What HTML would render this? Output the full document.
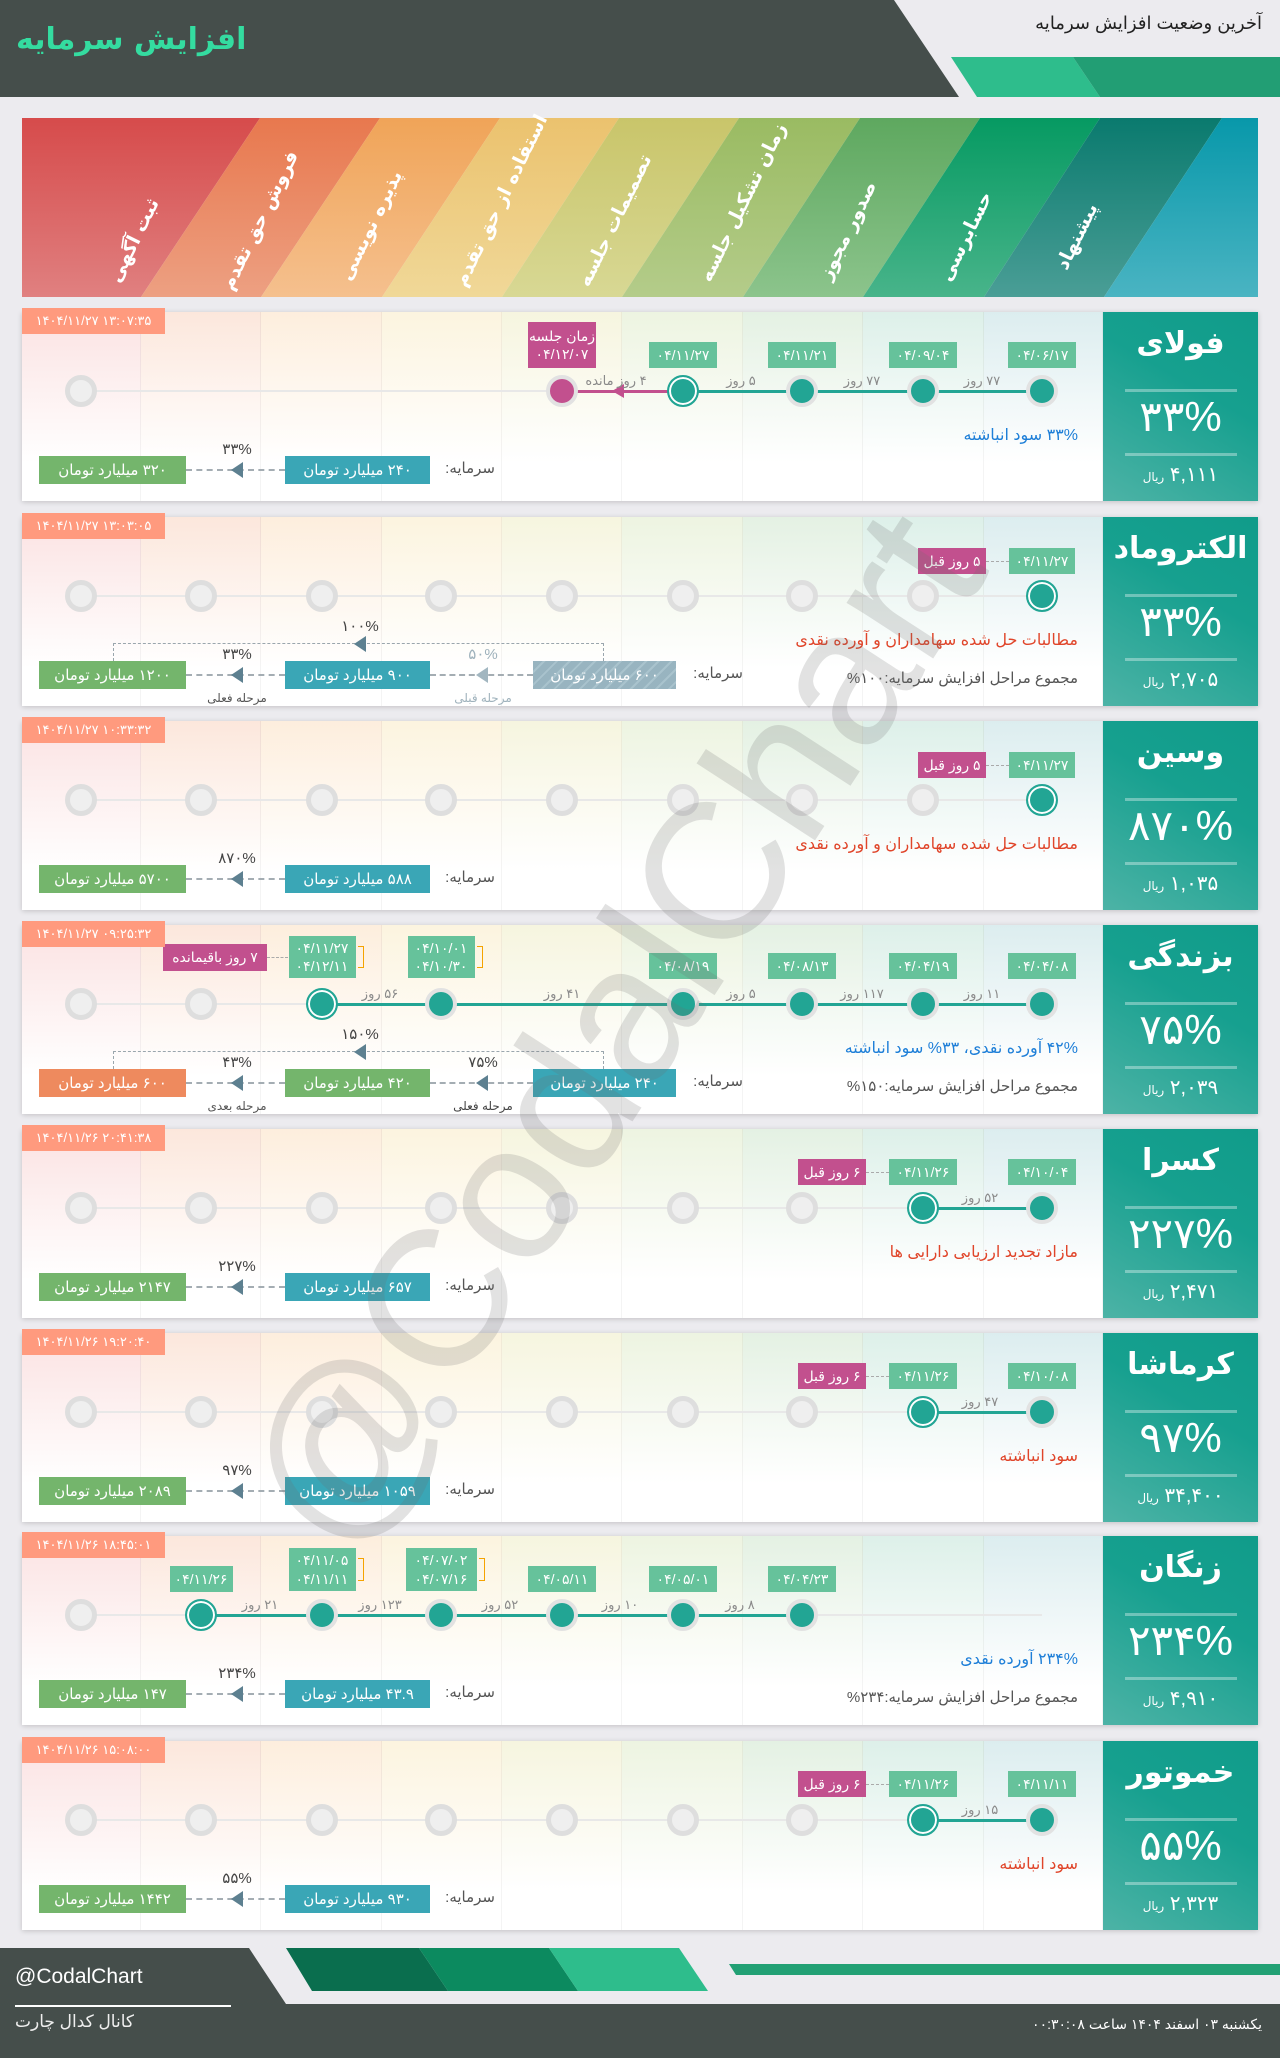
<!DOCTYPE html>
<html lang="fa"><head><meta charset="utf-8">
<style>
*{margin:0;padding:0;box-sizing:border-box}
body{width:1280px;height:2058px;background:#ecebef;position:relative;overflow:hidden;font-family:"Liberation Sans","DejaVu Sans",sans-serif}
.a{position:absolute}
.row{position:absolute;left:0;width:1280px;height:189px}
.bg{position:absolute;left:22px;width:1236px;top:0;height:189px;background:#fff;box-shadow:0 1px 5px rgba(0,0,0,.18);overflow:hidden}
.col{position:absolute;top:0;height:189px;border-right:1px solid rgba(0,0,0,.045)}
.c{position:absolute;top:63px;width:32px;height:32px;border-radius:50%}
.g{background:#efefef;border:5px solid #dedede}
.t{background:#22a594;border:4px solid #e2e2e2}
.m{background:#c2508e;border:4px solid #e2e2e2}
.cur{background:#22a594;border:2px solid #22a594;box-shadow:inset 0 0 0 2px #fff}
.tag{position:absolute;background:#66c29b;color:#fff;font-size:14px;display:flex;align-items:center;justify-content:center;text-align:center;line-height:1.3;white-space:nowrap;direction:ltr}
.mg{background:#c2508e;direction:rtl}
.d{position:absolute;top:61px;font-size:13px;color:#8a8a8a;transform:translateX(-50%);white-space:nowrap;direction:rtl}
.desc{position:absolute;right:202px;top:113px;font-size:16px;white-space:nowrap;direction:rtl}
.sum{position:absolute;right:202px;top:152px;font-size:15px;color:#555;white-space:nowrap;direction:rtl}
.bx{position:absolute;top:144px;height:28px;color:#fff;font-size:15px;display:flex;align-items:center;justify-content:center;white-space:nowrap;direction:rtl}
.cp{position:absolute;top:147px;font-size:15px;color:#555;direction:rtl;white-space:nowrap}
.dl{position:absolute;top:157px;border-top:2px dashed #a4adb3;height:0}
.tri{position:absolute;width:0;height:0;border-top:8px solid transparent;border-bottom:8px solid transparent;border-right:12px solid #5d8090}
.pl{position:absolute;font-size:15px;color:#444;transform:translateX(-50%);white-space:nowrap;direction:ltr}
.sl{position:absolute;font-size:12px;color:#555;transform:translateX(-50%);white-space:nowrap;direction:rtl;top:174px}
.dt{position:absolute;left:22px;top:-4px;width:143px;height:26px;background:#ff9a7e;color:#fff;font-size:13px;display:flex;align-items:center;justify-content:center;direction:ltr;white-space:nowrap}
.rp{position:absolute;left:1103px;top:0;width:155px;height:189px;background:linear-gradient(30deg,#4db3a6,#16a08f 60%,#109c8a);color:#fff;text-align:center;direction:rtl}
.rp .nm{position:absolute;left:0;right:0;top:14px;font-size:30px;font-weight:bold}
.rp .sep{position:absolute;left:22px;width:112px;height:3px;background:rgba(255,255,255,.35)}
.rp .pc{position:absolute;left:0;right:0;top:80px;font-size:42px}
.rp .pr{position:absolute;left:0;right:0;top:150px;font-size:20px}
.rp .pr small{font-size:12px}
.ob{position:absolute;border:1.5px solid #f5a300;border-left:none;width:6px}
</style></head><body>

<svg class="a" style="left:0;top:0" width="1280" height="300">
<polygon points="0,0 894,0 959,97 0,97" fill="#454e4b"/>
<polygon points="951,57 1073,57 1100,97 977,97" fill="#2ebd8c"/>
<polygon points="1073,57 1280,57 1280,97 1100,97" fill="#229e74"/>
<defs>
<linearGradient id="g0" x1="0" y1="0" x2="0" y2="1"><stop offset="0" stop-color="#d64b4b"/><stop offset="1" stop-color="#e08080"/></linearGradient>
<linearGradient id="g1" x1="0" y1="0" x2="0" y2="1"><stop offset="0" stop-color="#e8784e"/><stop offset="1" stop-color="#eda082"/></linearGradient>
<linearGradient id="g2" x1="0" y1="0" x2="0" y2="1"><stop offset="0" stop-color="#f0a458"/><stop offset="1" stop-color="#f5c08e"/></linearGradient>
<linearGradient id="g3" x1="0" y1="0" x2="0" y2="1"><stop offset="0" stop-color="#ebc26e"/><stop offset="1" stop-color="#f0d898"/></linearGradient>
<linearGradient id="g4" x1="0" y1="0" x2="0" y2="1"><stop offset="0" stop-color="#c9c56a"/><stop offset="1" stop-color="#d8d894"/></linearGradient>
<linearGradient id="g5" x1="0" y1="0" x2="0" y2="1"><stop offset="0" stop-color="#9abb62"/><stop offset="1" stop-color="#b4cc8a"/></linearGradient>
<linearGradient id="g6" x1="0" y1="0" x2="0" y2="1"><stop offset="0" stop-color="#5ea85f"/><stop offset="1" stop-color="#8cc48c"/></linearGradient>
<linearGradient id="g7" x1="0" y1="0" x2="0" y2="1"><stop offset="0" stop-color="#069a62"/><stop offset="1" stop-color="#48b48a"/></linearGradient>
<linearGradient id="g8" x1="0" y1="0" x2="0" y2="1"><stop offset="0" stop-color="#0a7a6e"/><stop offset="1" stop-color="#4a9e96"/></linearGradient>
<linearGradient id="g9" x1="0" y1="0" x2="0" y2="1"><stop offset="0" stop-color="#0898aa"/><stop offset="1" stop-color="#4ab4c2"/></linearGradient>
</defs>
<g>
<polygon points="22,118 260,118 141,297 22,297" fill="url(#g0)"/>
<polygon points="260,118 380,118 261,297 141,297" fill="url(#g1)"/>
<polygon points="380,118 500,118 382,297 261,297" fill="url(#g2)"/>
<polygon points="500,118 619,118 502,297 382,297" fill="url(#g3)"/>
<polygon points="619,118 739,118 622,297 502,297" fill="url(#g4)"/>
<polygon points="739,118 860,118 743,297 622,297" fill="url(#g5)"/>
<polygon points="860,118 980,118 863,297 743,297" fill="url(#g6)"/>
<polygon points="980,118 1100,118 984,297 863,297" fill="url(#g7)"/>
<polygon points="1100,118 1222,118 1104,297 984,297" fill="url(#g8)"/>
<polygon points="1222,118 1258,118 1258,297 1104,297" fill="url(#g9)"/>
</g>
<g fill="#fff" font-family="DejaVu Sans, sans-serif" font-weight="bold" font-size="19" text-anchor="middle" direction="rtl">
<text transform="translate(133,240) rotate(-64)" dy="7">ثبت آگهی</text>
<text transform="translate(259,220) rotate(-64)" dy="7">فروش حق تقدم</text>
<text transform="translate(370,225) rotate(-64)" dy="7">پذیره نویسی</text>
<text transform="translate(500,200) rotate(-64)" dy="7">استفاده از حق تقدم</text>
<text transform="translate(614,220) rotate(-64)" dy="7">تصمیمات جلسه</text>
<text transform="translate(742,202) rotate(-64)" dy="7">زمان تشکیل جلسه</text>
<text transform="translate(847,230) rotate(-64)" dy="7">صدور مجوز</text>
<text transform="translate(965,236) rotate(-64)" dy="7">حسابرسی</text>
<text transform="translate(1076,236) rotate(-64)" dy="7">پیشنهاد</text>
</g>
</svg>
<div class="a" style="left:16px;top:22px;font-size:30px;font-weight:bold;color:#34dca0;direction:rtl;font-family:'DejaVu Sans',sans-serif">افزایش سرمایه</div>
<div class="a" style="right:18px;top:13px;font-size:18px;color:#222;direction:rtl">آخرین وضعیت افزایش سرمایه</div>

<div id="rows"></div>

<div class="a" style="left:612px;top:1030px;transform:translate(-50%,-50%) rotate(-57deg);font-size:195px;color:rgba(110,110,110,.2);white-space:nowrap;font-family:'Liberation Sans',sans-serif;pointer-events:none">@CodalChart</div>

<svg class="a" style="left:0;top:1940px" width="1280" height="118">
<polygon points="0,8 249,8 286,64 1280,64 1280,118 0,118" fill="#454e4b"/>
<polygon points="286,8 419,8 448,51 312,51" fill="#0a6e4e"/>
<polygon points="419,8 549,8 578,51 448,51" fill="#0c8a5f"/>
<polygon points="549,8 679,8 708,51 578,51" fill="#2ebd8c"/>
<polygon points="729,24 1280,24 1280,35 736,35" fill="#22a074"/>
<rect x="15" y="65" width="216" height="2" fill="#fff"/>
</svg>
<div class="a" style="left:15px;top:1965px;font-size:21px;color:#fff">@CodalChart</div>
<div class="a" style="left:15px;top:2012px;font-size:17px;color:#eee;direction:rtl">کانال کدال چارت</div>
<div class="a" style="right:18px;top:2016px;font-size:14px;color:#fff;direction:rtl">یکشنبه ۰۳ اسفند ۱۴۰۴ ساعت ۰۰:۳۰:۰۸</div>

<script>
var X=[81,201,322,441,562,683,802,923,1042];
var C=[22,141,261,382,502,622,743,863,984,1103];
var tints=['#fbe2e2','#fce7dc','#fdeedd','#fcf4df','#f6f5df','#edf4e1','#e4f1e3','#ddf0e9','#dcedef'];
function row(o){
 var h='<div class="row" style="top:'+o.top+'px"><div class="bg">';
 for(var i=0;i<9;i++){h+='<div class="col" style="left:'+(C[i]-22)+'px;width:'+(C[i+1]-C[i])+'px;background:linear-gradient(to bottom,'+tints[i]+',#fff 80%)"></div>';}
 h+='</div>';
 h+='<div class="a" style="left:81px;width:961px;top:78px;height:2px;background:#e8e8e8"></div>';
 if(o.line)h+='<div class="a" style="left:'+o.line[0]+'px;width:'+(o.line[1]-o.line[0])+'px;top:78px;height:3px;background:#22a594"></div>';
 if(o.mline){h+='<div class="a" style="left:'+o.mline[0]+'px;width:'+(o.mline[1]-o.mline[0])+'px;top:78px;height:3px;background:#c2508e"></div><div class="tri" style="left:612px;top:72px;border-top-width:7px;border-bottom-width:7px;border-right-color:#c2508e"></div>';}
 o.c.forEach(function(t,i){ if(t) h+='<div class="c '+t+'" style="left:'+(X[i]-16)+'px"></div>';});
 (o.tags||[]).forEach(function(t){
   var w=t.w||68, top=t.top||30, ht=t.h||26;
   h+='<div class="tag'+(t.m?' mg':'')+'" style="left:'+((t.x!=null?t.x:X[t.i])-w/2)+'px;top:'+top+'px;width:'+w+'px;height:'+ht+'px">'+t.t+'</div>';
   if(t.ob) h+='<div class="ob" style="left:'+((t.x!=null?t.x:X[t.i])+w/2+2)+'px;top:'+(top+10)+'px;height:'+(ht-20)+'px"></div>';
 });
 (o.conn||[]).forEach(function(c){h+='<div class="a" style="left:'+c[0]+'px;width:'+(c[1]-c[0])+'px;top:'+c[2]+'px;border-top:1.5px dashed #aaa"></div>';});
 (o.days||[]).forEach(function(d){h+='<div class="d" style="left:'+d[0]+'px">'+d[1]+'</div>';});
 h+='<div class="desc" style="color:'+o.dc+'">'+o.desc+'</div>';
 if(o.sum)h+='<div class="sum">مجموع مراحل افزایش سرمایه:'+o.sum+'</div>';
 h+=o.cap;
 h+='<div class="dt">'+o.date+'</div>';
 h+='<div class="rp"><div class="nm">'+o.name+'</div><div class="sep" style="top:77px"></div><div class="pc">'+o.pct+'</div><div class="sep" style="top:141px"></div><div class="pr">'+o.price+' <small>ریال</small></div></div>';
 h+='</div>';
 return h;
}
function capA(a,b,p){
 return '<div class="cp" style="right:785px">سرمایه:</div>'+
 '<div class="bx" style="left:285px;width:145px;background:#3aa6b6">'+a+' میلیارد تومان</div>'+
 '<div class="dl" style="left:186px;width:99px"></div><div class="tri" style="left:231px;top:150px"></div>'+
 '<div class="pl" style="left:237px;top:128px">'+p+'</div>'+
 '<div class="bx" style="left:39px;width:147px;background:#74b56c">'+b+' میلیارد تومان</div>';
}
function capB(o){
 return '<div class="cp" style="right:537px">سرمایه:</div>'+
 '<div class="bx" style="left:533px;width:143px;background:'+o.c1+'">'+o.a+' میلیارد تومان</div>'+
 '<div class="dl" style="left:430px;width:103px"></div><div class="tri" style="left:476px;top:150px;border-right-color:'+o.t1+'"></div>'+
 '<div class="pl" style="left:483px;top:128px;color:'+o.p1c+'">'+o.p1+'</div><div class="sl" style="left:483px;color:'+o.p1c+'">'+o.l1+'</div>'+
 '<div class="bx" style="left:285px;width:145px;background:'+o.c2+'">'+o.b+' میلیارد تومان</div>'+
 '<div class="dl" style="left:186px;width:99px"></div><div class="tri" style="left:231px;top:150px"></div>'+
 '<div class="pl" style="left:237px;top:128px">'+o.p2+'</div><div class="sl" style="left:237px">'+o.l2+'</div>'+
 '<div class="bx" style="left:39px;width:147px;background:'+o.c3+'">'+o.c+' میلیارد تومان</div>'+
 '<div class="a" style="left:113px;width:491px;top:126px;height:18px;border:1.5px dashed #9aa6ad;border-bottom:none"></div>'+
 '<div class="tri" style="left:354px;top:119px"></div><div class="pl" style="left:360px;top:100px">'+o.p3+'</div>';
}
var G='g',T='t',K='cur',M='m',N=null;
var rows=[
{top:312,date:'۱۴۰۴/۱۱/۲۷ ۱۳:۰۷:۳۵',name:'فولای',pct:'۳۳%',price:'۴,۱۱۱',
 c:[G,N,N,N,M,K,T,T,T],line:[683,1042],mline:[562,683],
 tags:[{i:8,t:'۰۴/۰۶/۱۷'},{i:7,t:'۰۴/۰۹/۰۴'},{i:6,t:'۰۴/۱۱/۲۱'},{i:5,t:'۰۴/۱۱/۲۷'},{i:4,t:'زمان جلسه<br>۰۴/۱۲/۰۷',m:1,top:10,h:46,w:68}],
 days:[[982,'۷۷ روز'],[862,'۷۷ روز'],[741,'۵ روز'],[616,'۴ روز مانده']],
 desc:'۳۳% سود انباشته',dc:'#1e7fd8',cap:capA('۲۴۰','۳۲۰','۳۳%')},
{top:517,date:'۱۴۰۴/۱۱/۲۷ ۱۳:۰۳:۰۵',name:'الکتروماد',pct:'۳۳%',price:'۲,۷۰۵',
 c:[G,G,G,G,G,G,G,G,K],
 tags:[{i:8,t:'۰۴/۱۱/۲۷',w:66,top:31},{x:952,t:'۵ روز قبل',m:1,w:68,top:31}],conn:[[986,1009,44]],
 desc:'مطالبات حل شده سهامداران و آورده نقدی',dc:'#e0452a',sum:'۱۰۰%',
 cap:capB({a:'۶۰۰',b:'۹۰۰',c:'۱۲۰۰',c1:'repeating-linear-gradient(135deg,#98b4c0 0 7px,#a9c3cd 7px 9px)',t1:'#a2b6c0',p1:'۵۰%',p1c:'#9fb2bc',l1:'مرحله قبلی',c2:'#3aa6b6',p2:'۳۳%',l2:'مرحله فعلی',c3:'#74b56c',p3:'۱۰۰%'})},
{top:721,date:'۱۴۰۴/۱۱/۲۷ ۱۰:۳۳:۳۲',name:'وسین',pct:'۸۷۰%',price:'۱,۰۳۵',
 c:[G,G,G,G,G,G,G,G,K],
 tags:[{i:8,t:'۰۴/۱۱/۲۷',w:66,top:31},{x:952,t:'۵ روز قبل',m:1,w:68,top:31}],conn:[[986,1009,44]],
 desc:'مطالبات حل شده سهامداران و آورده نقدی',dc:'#e0452a',cap:capA('۵۸۸','۵۷۰۰','۸۷۰%')},
{top:925,date:'۱۴۰۴/۱۱/۲۷ ۰۹:۲۵:۳۲',name:'بزندگی',pct:'۷۵%',price:'۲,۰۳۹',
 c:[G,G,K,T,N,T,T,T,T],line:[322,1042],
 tags:[{i:8,t:'۰۴/۰۴/۰۸',top:28},{i:7,t:'۰۴/۰۴/۱۹',top:28},{i:6,t:'۰۴/۰۸/۱۳',top:28},{i:5,t:'۰۴/۰۸/۱۹',top:28},
  {i:3,t:'۰۴/۱۰/۰۱<br>۰۴/۱۰/۳۰',top:11,h:42,w:67,ob:1},{i:2,t:'۰۴/۱۱/۲۷<br>۰۴/۱۲/۱۱',top:11,h:42,w:67,ob:1},
  {x:215,t:'۷ روز باقیمانده',m:1,w:104,top:19,h:27}],conn:[[267,288,32]],
 days:[[982,'۱۱ روز'],[862,'۱۱۷ روز'],[741,'۵ روز'],[562,'۴۱ روز'],[380,'۵۶ روز']],
 desc:'۴۲% آورده نقدی، ۳۳% سود انباشته',dc:'#1e7fd8',sum:'۱۵۰%',
 cap:capB({a:'۲۴۰',b:'۴۲۰',c:'۶۰۰',c1:'#3aa6b6',t1:'#5d8090',p1:'۷۵%',p1c:'#444',l1:'مرحله فعلی',c2:'#74b56c',p2:'۴۳%',l2:'مرحله بعدی',c3:'#ee8a5e',p3:'۱۵۰%'})},
{top:1129,date:'۱۴۰۴/۱۱/۲۶ ۲۰:۴۱:۳۸',name:'کسرا',pct:'۲۲۷%',price:'۲,۴۷۱',
 c:[G,G,G,G,G,G,G,K,T],line:[923,1042],
 tags:[{i:8,t:'۰۴/۱۰/۰۴',top:30},{i:7,t:'۰۴/۱۱/۲۶',top:30},{x:832,t:'۶ روز قبل',m:1,w:68,top:30}],conn:[[866,889,43]],
 days:[[980,'۵۲ روز']],desc:'مازاد تجدید ارزیابی دارایی ها',dc:'#e0452a',cap:capA('۶۵۷','۲۱۴۷','۲۲۷%')},
{top:1333,date:'۱۴۰۴/۱۱/۲۶ ۱۹:۲۰:۴۰',name:'کرماشا',pct:'۹۷%',price:'۳۴,۴۰۰',
 c:[G,G,G,G,G,G,G,K,T],line:[923,1042],
 tags:[{i:8,t:'۰۴/۱۰/۰۸',top:30},{i:7,t:'۰۴/۱۱/۲۶',top:30},{x:832,t:'۶ روز قبل',m:1,w:68,top:30}],conn:[[866,889,43]],
 days:[[980,'۴۷ روز']],desc:'سود انباشته',dc:'#e0452a',cap:capA('۱۰۵۹','۲۰۸۹','۹۷%')},
{top:1536,date:'۱۴۰۴/۱۱/۲۶ ۱۸:۴۵:۰۱',name:'زنگان',pct:'۲۳۴%',price:'۴,۹۱۰',
 c:[G,K,T,T,T,T,T,N,N],line:[201,802],
 tags:[{i:6,t:'۰۴/۰۴/۲۳',top:30},{i:5,t:'۰۴/۰۵/۰۱',top:30},{i:4,t:'۰۴/۰۵/۱۱',top:30},
  {i:3,t:'۰۴/۰۷/۰۲<br>۰۴/۰۷/۱۶',top:12,h:43,w:71,ob:1},{i:2,t:'۰۴/۱۱/۰۵<br>۰۴/۱۱/۱۱',top:12,h:43,w:67,ob:1},{i:1,t:'۰۴/۱۱/۲۶',top:30,w:63}],
 days:[[740,'۸ روز'],[620,'۱۰ روز'],[500,'۵۲ روز'],[380,'۱۲۳ روز'],[260,'۲۱ روز']],
 desc:'۲۳۴% آورده نقدی',dc:'#1e7fd8',sum:'۲۳۴%',cap:capA('۴۳.۹','۱۴۷','۲۳۴%')},
{top:1741,date:'۱۴۰۴/۱۱/۲۶ ۱۵:۰۸:۰۰',name:'خموتور',pct:'۵۵%',price:'۲,۳۲۳',
 c:[G,G,G,G,G,G,G,K,T],line:[923,1042],
 tags:[{i:8,t:'۰۴/۱۱/۱۱',top:30},{i:7,t:'۰۴/۱۱/۲۶',top:30},{x:832,t:'۶ روز قبل',m:1,w:68,top:30}],conn:[[866,889,43]],
 days:[[980,'۱۵ روز']],desc:'سود انباشته',dc:'#e0452a',cap:capA('۹۳۰','۱۴۴۲','۵۵%')}
];
document.getElementById('rows').innerHTML=rows.map(row).join('');
</script>
</body></html>
